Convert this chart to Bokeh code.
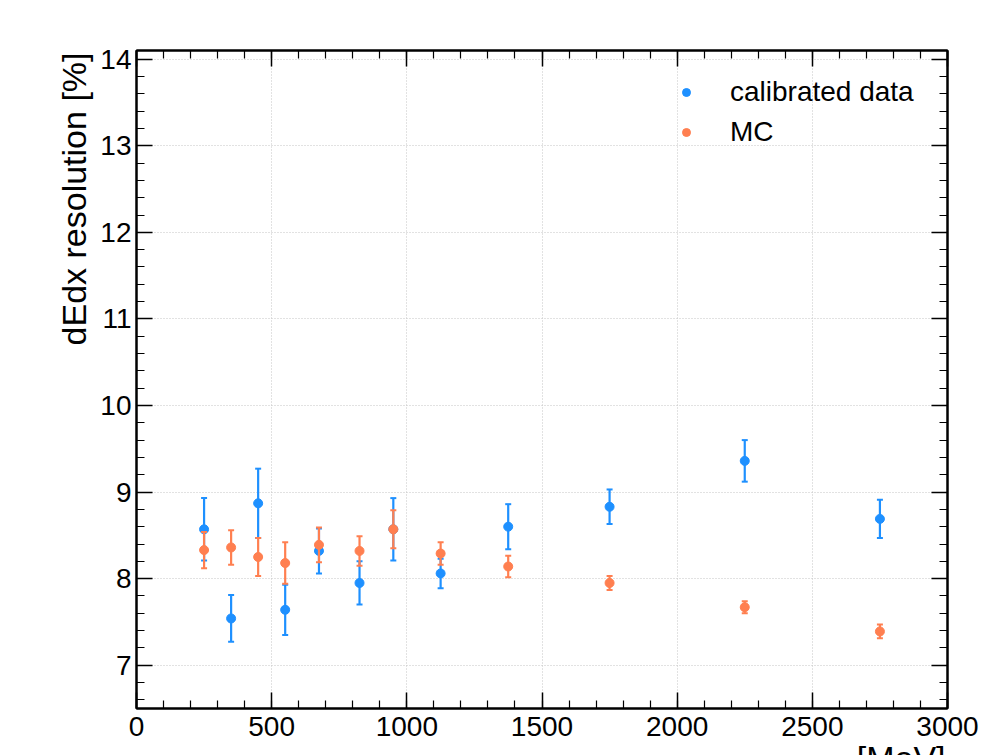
from bokeh.plotting import figure
from bokeh.layouts import column
from bokeh.models import (Range1d, SingleIntervalTicker, LinearAxis, Legend,
                          LegendItem, CustomJSTickFormatter, Title)
from bokeh.embed import file_html
from bokeh.resources import INLINE

# ---- data ----
momentum = [250, 350, 450, 550, 675, 825, 950, 1125, 1375, 1750, 2250, 2750]
data_res = [8.57, 7.54, 8.87, 7.64, 8.32, 7.95, 8.57, 8.06, 8.60, 8.83, 9.36, 8.69]
data_err = [0.36, 0.27, 0.40, 0.29, 0.26, 0.25, 0.36, 0.17, 0.26, 0.20, 0.24, 0.22]
mc_res = [8.33, 8.36, 8.25, 8.18, 8.39, 8.32, 8.57, 8.29, 8.14, 7.95, 7.67, 7.39]
mc_err = [0.21, 0.20, 0.22, 0.24, 0.20, 0.17, 0.22, 0.13, 0.125, 0.08, 0.07, 0.08]

x_label = "[MeV]"
y_label = "dEdx resolution [%]"
series_names = ["calibrated data", "MC"]
colors = ["#1e90ff", "#ff7f50"]

FONT = "Liberation Sans"

p = figure(width=994, height=803, output_backend="svg", toolbar_location=None,
           x_range=Range1d(0, 3000), y_range=Range1d(6.5, 14.1),
           min_border_left=136, min_border_right=47, min_border_top=50, min_border_bottom=95,
           width_policy="fixed", height_policy="fixed",
           styles={"flex-shrink": "0", "flex": "none"})
p.background_fill_color = "white"
p.border_fill_color = "white"
p.outline_line_color = "black"
p.outline_line_width = 2

xt = SingleIntervalTicker(interval=500, num_minor_ticks=5)
yt = SingleIntervalTicker(interval=1, num_minor_ticks=5)


def style_axis(ax, ticker, standoff):
    ax.ticker = ticker
    ax.axis_line_color = "black"
    ax.axis_line_width = 2
    ax.major_tick_in = 16
    ax.major_tick_out = 0
    ax.minor_tick_in = 8
    ax.minor_tick_out = 0
    ax.major_tick_line_width = 1.5
    ax.minor_tick_line_width = 1.2
    ax.major_tick_line_color = "black"
    ax.minor_tick_line_color = "black"
    ax.major_label_text_font = FONT
    ax.major_label_text_font_size = "28px"
    ax.major_label_text_color = "black"
    ax.major_label_standoff = standoff


style_axis(p.xaxis[0], xt, 8)
style_axis(p.yaxis[0], yt, 5)

for loc, tk in (("above", xt), ("right", yt)):
    ax = LinearAxis()
    style_axis(ax, tk, 0)
    ax.formatter = CustomJSTickFormatter(code="return ''")
    p.add_layout(ax, loc)

for g, tk in ((p.xgrid[0], xt), (p.ygrid[0], yt)):
    g.ticker = tk
    g.grid_line_color = "#c4c4c4"
    g.grid_line_width = 1
    g.grid_line_dash = "1 2"

renderers = []
for yv, ev, c in ((data_res, data_err, colors[0]), (mc_res, mc_err, colors[1])):
    lo = [a - b for a, b in zip(yv, ev)]
    hi = [a + b for a, b in zip(yv, ev)]
    p.segment(x0=momentum, y0=lo, x1=momentum, y1=hi, line_color=c, line_width=2.2)
    p.scatter(x=momentum, y=lo, marker="dash", size=6, line_color=c, line_width=2)
    p.scatter(x=momentum, y=hi, marker="dash", size=6, line_color=c, line_width=2)
    r = p.scatter(x=momentum, y=yv, marker="circle", size=9, fill_color=c, line_color=c)
    renderers.append(r)

legend = Legend(items=[LegendItem(label=series_names[0], renderers=[renderers[0]]),
                       LegendItem(label=series_names[1], renderers=[renderers[1]])],
                location=(540, 556), padding=0, margin=0, spacing=0,
                glyph_width=20, glyph_height=40, label_height=40, label_standoff=34,
                label_text_font=FONT, label_text_font_size="28px", label_text_color="black",
                border_line_alpha=0, background_fill_alpha=0)
p.add_layout(legend, "center")

p.add_layout(Title(text=y_label, align="right", vertical_align="bottom", offset=2, standoff=10,
                   text_font=FONT, text_font_size="34px", text_font_style="normal",
                   text_color="black"), "left")
p.add_layout(Title(text=x_label, align="right", vertical_align="top", offset=2, standoff=0,
                   text_font=FONT, text_font_size="34px", text_font_style="normal",
                   text_color="black"), "below")

page = column(p, width=994, height=755, width_policy="fixed", height_policy="fixed",
              styles={"overflow": "hidden"})

open("out.html", "w").write(file_html(page, INLINE))
